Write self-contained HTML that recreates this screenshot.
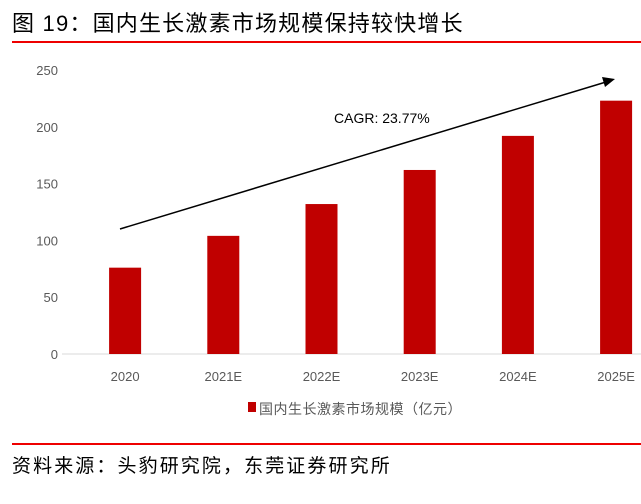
<!DOCTYPE html>
<html><head><meta charset="utf-8"><style>
body{margin:0;width:641px;height:504px;background:#fff;overflow:hidden;font-family:"Liberation Sans","Noto Sans CJK SC",sans-serif;}
svg{position:absolute;left:0;top:0}
</style></head><body>
<svg width="641" height="504">
<text x="12" y="31" font-size="22" letter-spacing="1.2" fill="#000" font-family="'Liberation Sans','Noto Sans CJK SC',sans-serif">图 19：国内生长激素市场规模保持较快增长</text>
<rect x="12" y="41" width="629" height="2" fill="#e00"/>
<g id="axes"></g>
<g id="bars"></g>
<line x1="120" y1="229" x2="606" y2="82" stroke="#000" stroke-width="1.5"/>
<polygon points="615,79 602,77 605,87" fill="#000"/>
<text x="334" y="123" font-size="14" fill="#000">CAGR: 23.77%</text>
<rect x="248" y="402" width="8" height="10" fill="#c00000"/>
<text x="259" y="414" font-size="14" letter-spacing="0.5" fill="#595959" font-family="'Liberation Sans','Noto Sans CJK SC',sans-serif">国内生长激素市场规模（亿元）</text>
<rect x="12" y="443" width="629" height="2" fill="#e00"/>
<text x="12" y="472" font-size="19" letter-spacing="2.1" fill="#000" font-family="'Liberation Sans','Noto Sans CJK SC',sans-serif">资料来源：头豹研究院，东莞证券研究所</text>
</svg>
<script>
const categories=["2020","2021E","2022E","2023E","2024E","2025E"];
const values=[76,104,132,162,192,223];
const yTicks=[0,50,100,150,200,250];
const NS="http://www.w3.org/2000/svg";
const y0=354,yTop=70,yMax=250,x0=76,step=98.2,bw=32;
const y=v=>y0-(v/yMax)*(y0-yTop);
const x=i=>x0+step*(i+0.5);
const axes=document.getElementById('axes'),bars=document.getElementById('bars');
function mk(tag,attrs,parent){const e=document.createElementNS(NS,tag);for(const k in attrs)e.setAttribute(k,attrs[k]);parent.appendChild(e);return e;}
yTicks.forEach(t=>{
 const e=mk('text',{x:58,y:y(t)+5,'font-size':13,fill:'#595959','text-anchor':'end'},axes);
 
 
 e.textContent=t;
});
const ax=mk('line',{x1:62,y1:y0,x2:641,y2:y0,stroke:'#d9d9d9','stroke-width':1},axes);


categories.forEach((c,i)=>{
 const r=mk('rect',{x:x(i)-bw/2,y:y(values[i]),width:bw,height:y0-y(values[i]),fill:'#c00000'},bars);
 
 
 const t=mk('text',{x:x(i),y:381,'font-size':13,fill:'#595959','text-anchor':'middle'},axes);
 
 
 t.textContent=c;
});
</script>
</body></html>
